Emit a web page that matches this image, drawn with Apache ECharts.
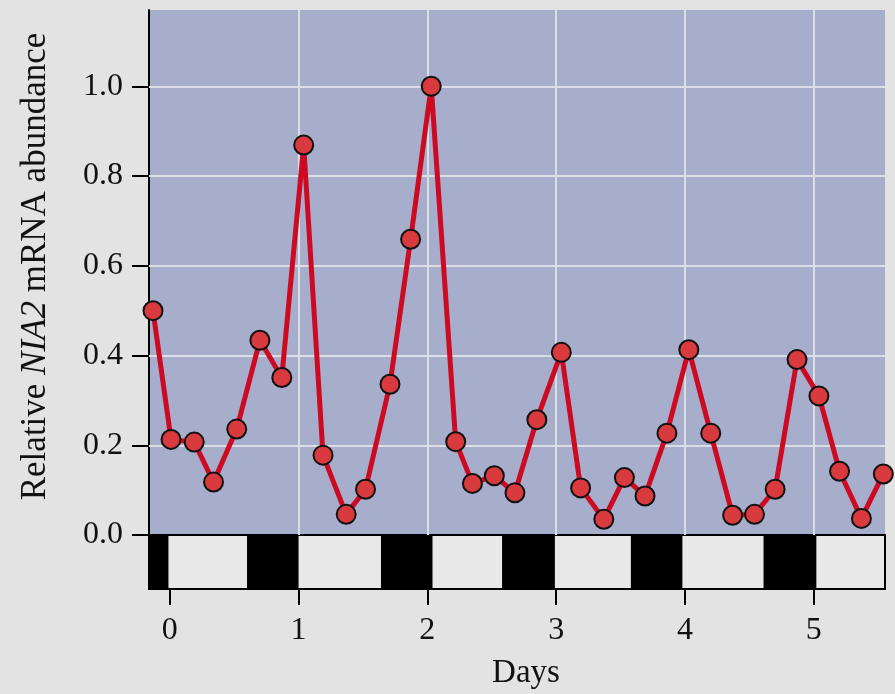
<!DOCTYPE html>
<html>
<head>
<meta charset="utf-8">
<script src="https://cdn.jsdelivr.net/npm/echarts@6/dist/echarts.min.js"></script>
<style>
  html, body { margin: 0; padding: 0; background: #e3e3e3; }
  #chart { width: 895px; height: 694px; }
</style>
</head>
<body>
<div id="chart"></div>
<script>
// Sampling times (days) and relative NIA2 mRNA abundance
const days = [-0.13, 0.01, 0.19, 0.34, 0.52, 0.70, 0.87, 1.04, 1.19, 1.37, 1.52, 1.71,
              1.87, 2.03, 2.22, 2.35, 2.52, 2.68, 2.85, 3.04, 3.19, 3.37, 3.53, 3.69,
              3.86, 4.03, 4.20, 4.37, 4.54, 4.70, 4.87, 5.04, 5.20, 5.37, 5.54];
const abundance = [0.50, 0.213, 0.207, 0.118, 0.236, 0.434, 0.351, 0.869, 0.178, 0.046, 0.102, 0.336,
                   0.659, 1.00, 0.208, 0.115, 0.132, 0.094, 0.257, 0.407, 0.105, 0.035, 0.128, 0.087,
                   0.227, 0.413, 0.227, 0.044, 0.046, 0.102, 0.391, 0.310, 0.142, 0.037, 0.136];

// Dark periods of the light/dark cycle (days)
const darkStart = [-0.161, 0.60, 1.64, 2.58, 3.58, 4.61];
const darkEnd   = [-0.01, 1.00, 2.04, 2.99, 3.98, 5.02];

// Axis ticks and gridlines
const dayTicks = [0, 1, 2, 3, 4, 5];
const dayGridlines = [1, 2, 3, 4, 5];
const yTicks = [0, 0.2, 0.4, 0.6, 0.8, 1.0];
const yGridlines = [0.2, 0.4, 0.6, 0.8, 1.0];
const xMin = -0.161, xMax = 5.553;
const yMax = 1.17;

const FONT = 'Liberation Serif';
const INK = '#111';

const chart = echarts.init(document.getElementById('chart'), null, { renderer: 'canvas' });

chart.setOption({
  backgroundColor: '#e3e3e3',
  animation: false,
  grid: [
    { left: 149, right: 10, top: 10, bottom: 159, show: true,
      backgroundColor: '#a7aecb', borderWidth: 0 },
    { left: 149, right: 10, top: 535, height: 54, show: true,
      backgroundColor: '#e8e8e8', borderColor: '#000', borderWidth: 2 }
  ],
  xAxis: [
    { type: 'value', gridIndex: 0, min: xMin, max: xMax,
      axisLine: { show: true, onZero: false, lineStyle: { color: '#000', width: 2 } },
      axisTick: { show: false }, axisLabel: { show: false }, splitLine: { show: false } },
    { type: 'value', gridIndex: 1, min: xMin, max: xMax, position: 'bottom',
      axisLine: { show: true, onZero: false, lineStyle: { color: '#000', width: 2 } },
      axisTick: { show: true, customValues: dayTicks, length: 16, lineStyle: { color: '#000', width: 2 } },
      axisLabel: { show: true, customValues: dayTicks, margin: 26,
        fontFamily: FONT, fontSize: 32, color: INK },
      splitLine: { show: false },
      name: 'Days', nameLocation: 'middle', nameGap: 68,
      nameTextStyle: { fontFamily: FONT, fontSize: 33, color: INK, padding: [0, 0, 0, 18] } }
  ],
  yAxis: [
    { type: 'value', gridIndex: 0, min: 0, max: yMax,
      axisLine: { show: true, onZero: false, lineStyle: { color: '#000', width: 2 } },
      axisTick: { show: true, customValues: yTicks, length: 17, lineStyle: { color: '#000', width: 2 } },
      axisLabel: { show: true, customValues: yTicks, margin: 26,
        formatter: v => v.toFixed(1), fontFamily: FONT, fontSize: 32, color: INK },
      splitLine: { show: false },
      name: 'Relative {i|NIA2} mRNA abundance', nameLocation: 'middle', nameRotate: 90, nameGap: 96,
      nameTextStyle: { fontFamily: FONT, fontSize: 35, color: INK, padding: [0, 0, 0, 12],
        rich: { i: { fontFamily: FONT, fontSize: 35, fontStyle: 'italic', color: INK } } } },
    { type: 'value', gridIndex: 1, min: 0, max: 1, show: false }
  ],
  series: [
    {
      // light gridlines behind the data
      type: 'line', xAxisIndex: 0, yAxisIndex: 0, data: [], z: 1, silent: true,
      markLine: {
        silent: true, symbol: 'none', animation: false,
        label: { show: false },
        lineStyle: { color: '#dcdee6', width: 2, type: 'solid' },
        data: [
          ...dayGridlines.map(d => ({ xAxis: d })),
          ...yGridlines.map(v => ({ yAxis: v }))
        ]
      }
    },
    {
      // light/dark bar under the plot
      type: 'custom', xAxisIndex: 1, yAxisIndex: 1, z: 2, silent: true,
      data: darkStart.map((s, i) => [s, darkEnd[i]]),
      encode: { x: [0, 1] },
      renderItem: (params, api) => {
        const p0 = api.coord([api.value(0), 1]);
        const p1 = api.coord([api.value(1), 0]);
        return { type: 'rect',
          shape: { x: p0[0], y: p0[1], width: p1[0] - p0[0], height: p1[1] - p0[1] },
          style: { fill: '#000' } };
      }
    },
    {
      type: 'line', xAxisIndex: 0, yAxisIndex: 0, z: 5, clip: false,
      data: days.map((d, i) => [d, abundance[i]]),
      symbol: 'circle', symbolSize: 19,
      itemStyle: { color: '#d83a3d', borderColor: '#111', borderWidth: 2 },
      lineStyle: { color: '#cc0b22', width: 5 }
    }
  ]
});
</script>
</body>
</html>
